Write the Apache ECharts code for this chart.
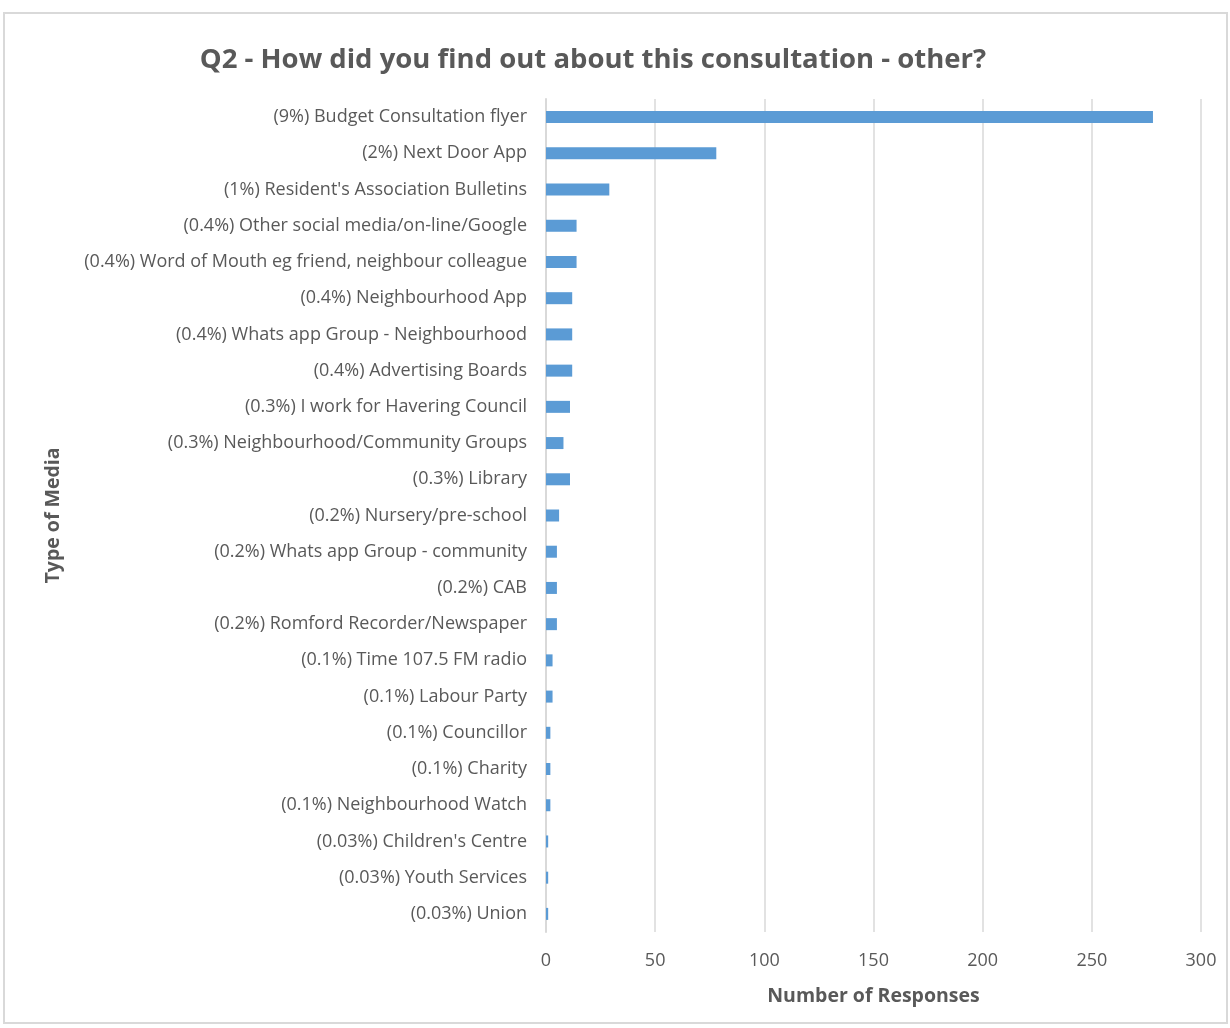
<!DOCTYPE html>
<html>
<head>
<meta charset="utf-8">
<script src="https://cdn.jsdelivr.net/npm/echarts@6/dist/echarts.min.js"></script>
<style>
  html, body { margin: 0; padding: 0; background: #fff; }
  #frame { position: absolute; left: 3px; top: 12px; width: 1225px; height: 1012px; border: 2px solid #d9d9d9; box-sizing: border-box; }
  #main { width: 1230px; height: 1028px; position: absolute; left: 0; top: 0; }
</style>
</head>
<body>
<div id="frame"></div>
<div id="main"></div>
<script>
// categories, top to bottom
var categories = [
    "(9%) Budget Consultation flyer",
    "(2%) Next Door App",
    "(1%) Resident's Association Bulletins",
    "(0.4%) Other social media/on-line/Google",
    "(0.4%) Word of Mouth eg friend, neighbour colleague",
    "(0.4%) Neighbourhood App",
    "(0.4%) Whats app Group - Neighbourhood",
    "(0.4%) Advertising Boards",
    "(0.3%) I work for Havering Council",
    "(0.3%) Neighbourhood/Community Groups",
    "(0.3%) Library",
    "(0.2%) Nursery/pre-school",
    "(0.2%) Whats app Group - community",
    "(0.2%) CAB",
    "(0.2%) Romford Recorder/Newspaper",
    "(0.1%) Time 107.5 FM radio",
    "(0.1%) Labour Party",
    "(0.1%) Councillor",
    "(0.1%) Charity",
    "(0.1%) Neighbourhood Watch",
    "(0.03%) Children's Centre",
    "(0.03%) Youth Services",
    "(0.03%) Union"
];
var responses = [278, 78, 29, 14, 14, 12, 12, 12, 11, 8, 11, 6, 5, 5, 5, 3, 3, 2, 2, 2, 1, 1, 1];
var xTicks = { min: 0, max: 300, interval: 50 };

var chart = echarts.init(document.getElementById('main'));
var txtFont = '"Open Sans", "Noto Sans", sans-serif';

chart.setOption({
    animation: false,
    title: {
        text: 'Q2 - How did you find out about this consultation - other?',
        left: 588,
        top: 41,
        textAlign: 'center',
        textStyle: { color: '#595959', fontSize: 27.5, fontWeight: 'bold', fontFamily: txtFont }
    },
    grid: { left: 546, right: 29, top: 99, bottom: 96, containLabel: false },
    xAxis: {
        type: 'value',
        min: xTicks.min,
        max: xTicks.max,
        interval: xTicks.interval,
        name: 'Number of Responses',
        nameLocation: 'middle',
        nameGap: 54,
        nameTextStyle: { color: '#595959', fontSize: 19.5, fontWeight: 'bold', fontFamily: txtFont },
        axisLine: { show: false },
        axisTick: { show: false },
        axisLabel: { color: '#595959', fontSize: 18, margin: 20, fontFamily: txtFont },
        splitLine: { lineStyle: { color: '#d9d9d9', width: 1.5 } }
    },
    yAxis: {
        type: 'category',
        data: categories,
        inverse: true,
        name: 'Type of Media',
        nameLocation: 'middle',
        nameGap: 483,
        nameRotate: 90,
        nameTextStyle: { color: '#595959', fontSize: 19.5, fontWeight: 'bold', fontFamily: txtFont },
        axisLine: { lineStyle: { color: '#d9d9d9', width: 2 } },
        axisTick: { show: false },
        axisLabel: { color: '#595959', fontSize: 18, margin: 19, fontFamily: txtFont }
    },
    series: [{
        type: 'bar',
        data: responses,
        barWidth: 12,
        itemStyle: { color: '#5b9bd5' }
    }]
});
</script>
</body>
</html>
